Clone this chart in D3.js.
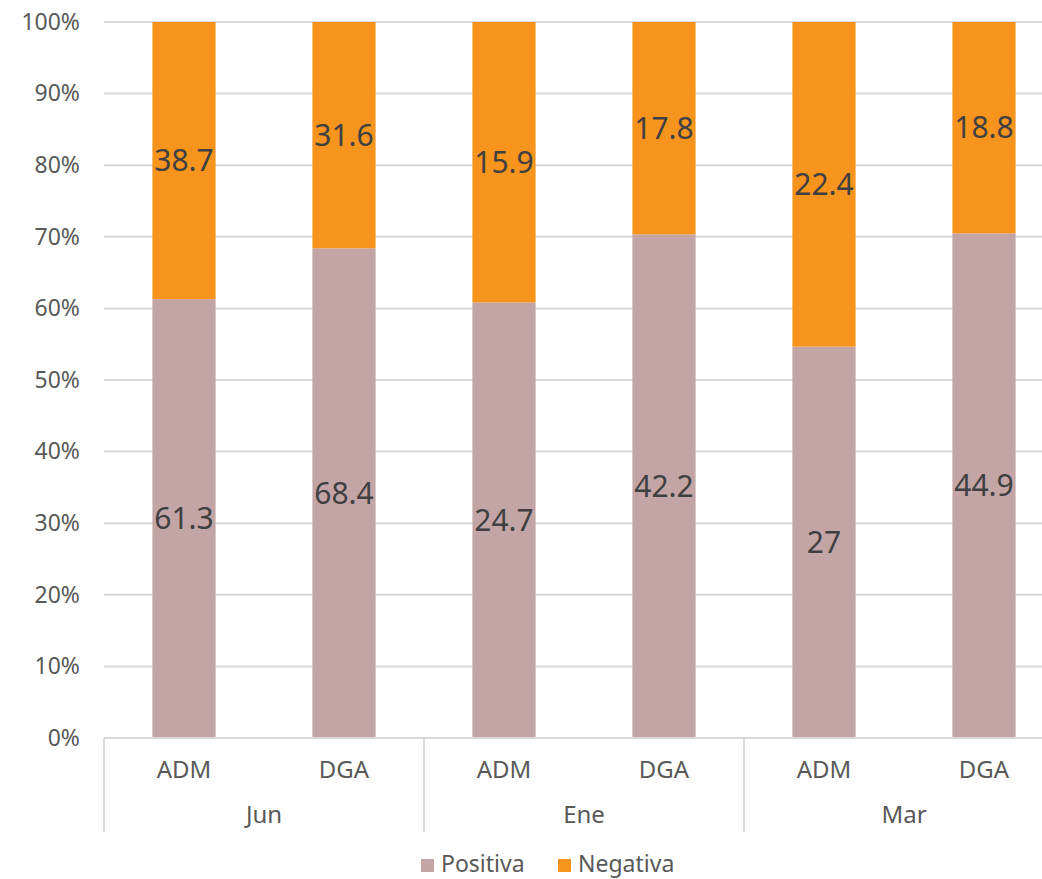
<!DOCTYPE html>
<html><head><meta charset="utf-8">
<script src="https://cdn.jsdelivr.net/npm/d3@7"></script>
<style>body{margin:0;background:#fff}svg{display:block}text{font-family:"Noto Sans",sans-serif}</style>
</head><body>
<svg id="c" width="1042" height="879"></svg>
<script>
const groups = ["Jun","Ene","Mar"];
const subcats = ["ADM","DGA","ADM","DGA","ADM","DGA"];
const groupOf = [0,0,1,1,2,2];
const positiva = [61.3,68.4,24.7,42.2,27,44.9];
const negativa = [38.7,31.6,15.9,17.8,22.4,18.8];
const seriesNames = ["Positiva","Negativa"];
const colors = ["#c4a5a6","#f7941e"];
const yTicks = [0,0.1,0.2,0.3,0.4,0.5,0.6,0.7,0.8,0.9,1];

const svg = d3.select("#c");
const mLeft = 104, mTop = 22, mBottom = 738;
const x = d3.scaleBand().domain(d3.range(6)).range([mLeft, mLeft+960]).paddingInner(0.605).paddingOuter(0.3025);
const y = d3.scaleLinear().domain([0,1]).range([mBottom, mTop]);

// gridlines
svg.append("g").selectAll("line").data(yTicks).join("line")
  .attr("x1", mLeft).attr("x2", 1042).attr("y1", d=>y(d)).attr("y2", d=>y(d))
  .attr("stroke", "#d9d9d9").attr("stroke-width", 2);

// y axis labels
const yAxis = d3.axisLeft(y).tickValues(yTicks).tickFormat(d3.format(".0%")).tickSize(0).tickPadding(24);
const ya = svg.append("g").attr("transform", `translate(${mLeft},0)`).call(yAxis);
ya.select(".domain").remove();
ya.selectAll("text").attr("font-size", 23).attr("fill", "#595959").attr("font-family","Noto Sans");

// stacked data
const rows = d3.range(6).map(i => {
  const t = positiva[i] + negativa[i];
  return {i, p: positiva[i]/t, n: negativa[i]/t, pv: positiva[i], nv: negativa[i]};
});

const bw = x.bandwidth();
const g = svg.append("g");
rows.forEach(r => {
  g.append("rect").attr("x", x(r.i)).attr("width", bw).attr("y", y(r.p)).attr("height", y(0)-y(r.p)).attr("fill", colors[0]);
  g.append("rect").attr("x", x(r.i)).attr("width", bw).attr("y", y(1)).attr("height", y(r.p)-y(1)).attr("fill", colors[1]);
  g.append("text").attr("x", x(r.i)+bw/2).attr("y", (y(0)+y(r.p))/2).attr("dy","0.36em")
    .attr("text-anchor","middle").attr("font-size", 30).attr("fill","#404040").text(r.pv);
  g.append("text").attr("x", x(r.i)+bw/2).attr("y", (y(r.p)+y(1))/2).attr("dy","0.36em")
    .attr("text-anchor","middle").attr("font-size", 30).attr("fill","#404040").text(r.nv);
});

// x axis line
svg.append("line").attr("x1", mLeft).attr("x2", 1042).attr("y1", mBottom).attr("y2", mBottom).attr("stroke","#d9d9d9").attr("stroke-width",2);
// group separators
const gw = 320;
[0,1,2,3].forEach(k => {
  svg.append("line").attr("x1", mLeft+k*gw).attr("x2", mLeft+k*gw).attr("y1", mBottom).attr("y2", 832)
    .attr("stroke","#d9d9d9").attr("stroke-width",2);
});
// subcategory labels
svg.append("g").selectAll("text").data(d3.range(6)).join("text")
  .attr("x", i => x(i)+bw/2).attr("y", 778).attr("text-anchor","middle")
  .attr("font-size", 24).attr("fill","#595959").text(i => subcats[i]);
// group labels
svg.append("g").selectAll("text").data(groups).join("text")
  .attr("x", (d,k) => mLeft + k*gw + gw/2).attr("y", 823).attr("text-anchor","middle")
  .attr("font-size", 24).attr("fill","#595959").text(d => d);

// legend
const leg = svg.append("g");
const legX = [421, 558];
seriesNames.forEach((s,k) => {
  leg.append("rect").attr("x", legX[k]).attr("y", 859).attr("width", 13).attr("height", 13).attr("fill", colors[k]);
  leg.append("text").attr("x", legX[k]+20).attr("y", 872).attr("font-size", 23).attr("fill","#595959").text(s);
});
</script>
</body></html>
